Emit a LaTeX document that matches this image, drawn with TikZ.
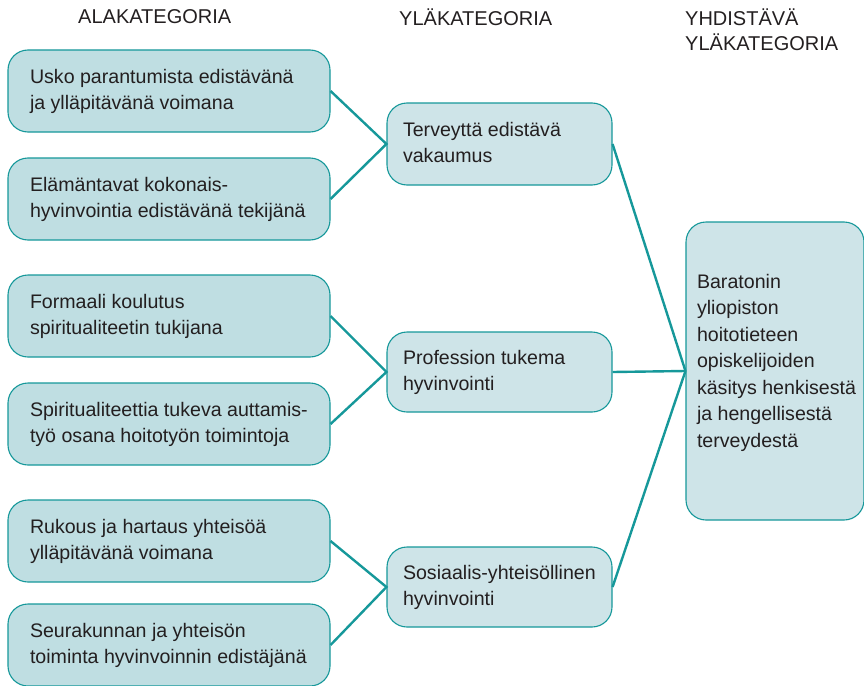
\documentclass[tikz,border=0pt]{standalone}
\usepackage{fontspec}
\setmainfont{Liberation Sans}
\definecolor{teal1}{RGB}{22,152,154}
\definecolor{subfill}{RGB}{191,222,226}
\definecolor{mainfill}{RGB}{206,228,232}
\definecolor{txt}{RGB}{35,31,32}
% text block of fixed width, lines kept as typed
\newcommand{\boxtxt}[2][278pt]{\makebox[#1][l]{\begin{tabular}{@{}l@{}}#2\end{tabular}}}
\tikzset{
	subbox/.style={draw=teal1, fill=subfill, line width=1.1pt, rounded corners=20pt, minimum width=322pt, minimum height=82pt, inner xsep=0pt, font=\fontsize{19.6}{26.5}\selectfont, text=txt},
	mainbox/.style={subbox, fill=mainfill, minimum width=225pt},
	topbox/.style={subbox, fill=mainfill, minimum width=178pt, minimum height=298pt},
	head/.style={font=\fontsize{20}{25}\selectfont, text=txt, align=left, anchor=north west, inner sep=0pt},
	link/.style={draw=teal1, line width=2.4pt}
}
\begin{document}
\begin{tikzpicture}[x=1pt,y=-1pt]
		\useasboundingbox (0,0) rectangle (864,685);
		\node[head] (h1) at (78,9) {ALAKATEGORIA};
		\node[head] (h2) at (399,9) {YLÄKATEGORIA};
		\node[head] (h3) at (685,9) {YHDISTÄVÄ\\YLÄKATEGORIA};
		\node[subbox] (a1) at (169,91) {\boxtxt{Usko parantumista edistävänä\\ja ylläpitävänä voimana}};
		\node[subbox] (a2) at (169,199) {\boxtxt{Elämäntavat kokonais-\\hyvinvointia edistävänä tekijänä}};
		\node[subbox] (a3) at (169,316) {\boxtxt{Formaali koulutus\\spiritualiteetin tukijana}};
		\node[subbox] (a4) at (169,424) {\boxtxt{Spiritualiteettia tukeva auttamis-\\työ osana hoitotyön toimintoja}};
		\node[subbox] (a5) at (169,541) {\boxtxt{Rukous ja hartaus yhteisöä\\ylläpitävänä voimana}};
		\node[subbox] (a6) at (169,645) {\boxtxt{Seurakunnan ja yhteisön\\toiminta hyvinvoinnin edistäjänä}};
		\node[mainbox] (y1) at (499.5,144) {\boxtxt[193pt]{Terveyttä edistävä\\vakaumus}};
		\node[mainbox, minimum height=80pt] (y2) at (499.5,372) {\boxtxt[193pt]{Profession tukema\\hyvinvointi}};
		\node[mainbox, minimum height=80pt] (y3) at (499.5,587) {\boxtxt[193pt]{Sosiaalis-yhteisöllinen\\hyvinvointi}};
		\node[topbox] (top) at (775,371) {\boxtxt[156pt]{Baratonin\\yliopiston\\hoitotieteen\\opiskelijoiden\\käsitys henkisestä\\ja hengellisestä\\terveydestä\\[17pt]}};
		\draw[link] (a1.east) -- (y1.west) -- (a2.east);
		\draw[link] (a3.east) -- (y2.west) -- (a4.east);
		\draw[link] (a5.east) -- (y3.west) -- (a6.east);
		\draw[link] (y1.east) -- (top.west);
		\draw[link] (y2.east) -- (top.west);
		\draw[link] (y3.east) -- (top.west);
	\end{tikzpicture}
\end{document}
